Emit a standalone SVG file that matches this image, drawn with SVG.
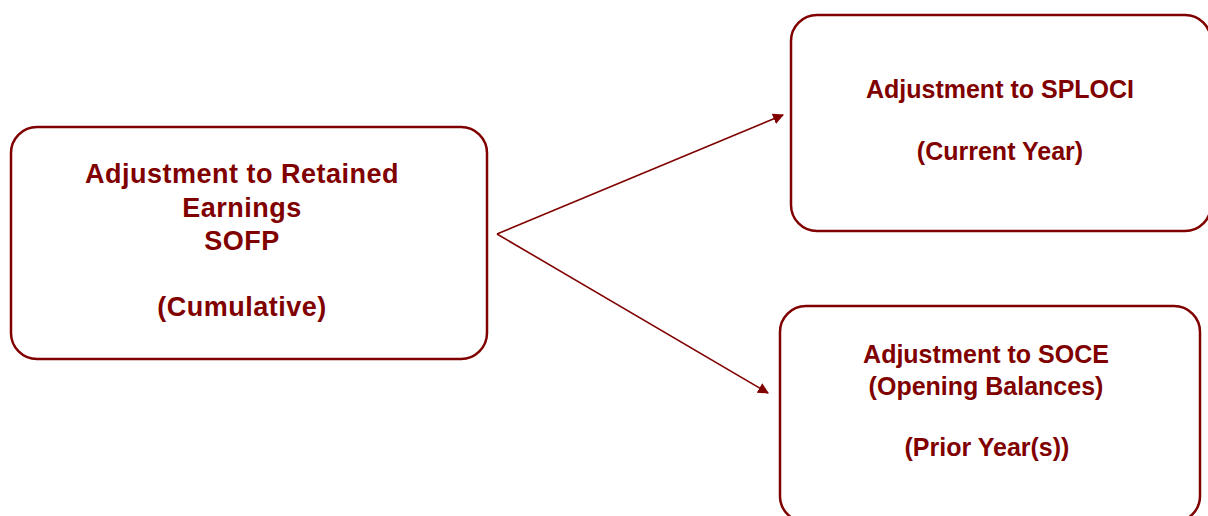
<svg xmlns="http://www.w3.org/2000/svg" width="1208" height="516" viewBox="0 0 1208 516">
<style>
.box{fill:#fff;stroke:#800000;stroke-width:2.5}
.t{font-family:"Liberation Sans",Arial,sans-serif;font-weight:bold;font-size:25px;fill:#800000;text-anchor:middle}
.big{font-size:27px;letter-spacing:0.5px}
.c{fill:none;stroke:#800000;stroke-width:1.6}
</style>
<defs>
<marker id="ah" viewBox="0 0 10 10" refX="9" refY="5" markerWidth="11" markerHeight="11" markerUnits="userSpaceOnUse" orient="auto">
<path d="M0,0 L10,5 L0,10 z" fill="#800000"/>
</marker>
</defs>
<g id="connectors">
<path class="c" d="M497,234 L783,115" marker-end="url(#ah)"/>
<path class="c" d="M497,234 L768,393" marker-end="url(#ah)"/>
</g>
<g id="node-retained">
<rect class="box" x="11" y="127" width="476" height="232" rx="26"/>
<text class="t big" x="242" y="183">Adjustment to Retained</text>
<text class="t big" x="242" y="217">Earnings</text>
<text class="t big" x="242" y="250">SOFP</text>
<text class="t big" x="242" y="316">(Cumulative)</text>
</g>
<g id="node-sploci">
<rect class="box" x="791" y="15" width="420" height="216" rx="26"/>
<text class="t" x="1000" y="98">Adjustment to SPLOCI</text>
<text class="t" x="1000" y="160">(Current Year)</text>
</g>
<g id="node-soce">
<rect class="box" x="780" y="306" width="420" height="216" rx="26"/>
<text class="t" x="986" y="363">Adjustment to SOCE</text>
<text class="t" x="986" y="395">(Opening Balances)</text>
<text class="t" x="987" y="456">(Prior Year(s))</text>
</g>
</svg>
